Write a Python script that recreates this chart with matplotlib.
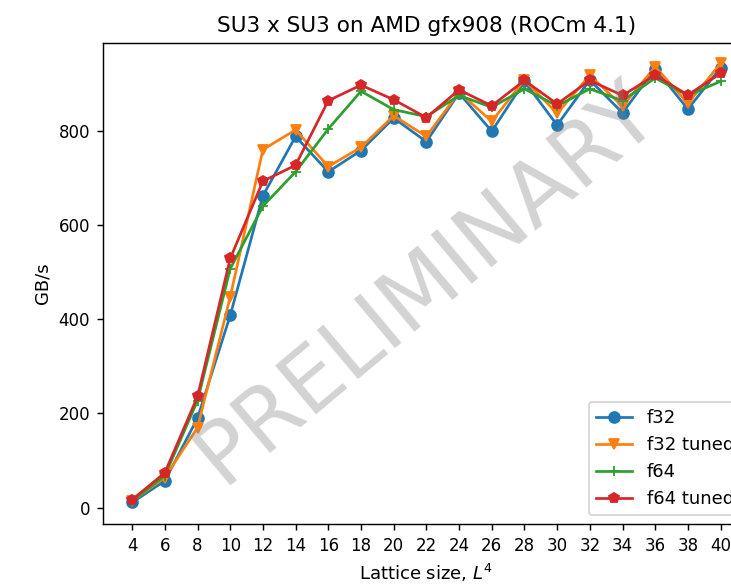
import matplotlib
matplotlib.use("Agg")
import matplotlib.pyplot as plt

L = [4, 6, 8, 10, 12, 14, 16, 18, 20, 22, 24, 26, 28, 30, 32, 34, 36, 38, 40]
f32 = [11, 57, 190, 408, 662, 788, 713, 758, 827, 777, 880, 799, 905, 812, 908, 838, 932, 846, 934]
f32_tuned = [14, 64, 170, 447, 760, 802, 724, 765, 832, 788, 882, 820, 908, 837, 918, 852, 936, 858, 943]
f64 = [14, 68, 227, 507, 640, 713, 804, 884, 845, 830, 875, 850, 889, 853, 889, 864, 912, 875, 905]
f64_tuned = [17, 74, 236, 529, 693, 727, 864, 897, 866, 828, 887, 853, 907, 857, 907, 875, 918, 876, 922]

series = [("f32", f32, "o"), ("f32 tuned", f32_tuned, "v"),
          ("f64", f64, "+"), ("f64 tuned", f64_tuned, "p")]

DPI = 130
fig = plt.figure(figsize=(731 / DPI, 585 / DPI), dpi=DPI)
ax = fig.add_axes([0.1405, 0.104, 0.8855, 0.823])

for name, vals, m in series:
    ax.plot(L, vals, marker=m, label=name)

ax.set_xticks(L)
ax.set_xlim(2.2, 41.8)
ax.set_ylim(-35, 987)
ax.tick_params(labelsize=9.2)
ax.set_xlabel("Lattice size, $L^4$")
ax.set_ylabel("GB/s")
ax.set_title("SU3 x SU3 on AMD gfx908 (ROCm 4.1)")
ax.text(0.5, 0.5, "PRELIMINARY", transform=ax.transAxes, fontsize=48,
        color="gray", alpha=0.35, ha="center", va="center", rotation=40)
ax.legend(loc="lower right")

fig.savefig("out.png", dpi=DPI)
